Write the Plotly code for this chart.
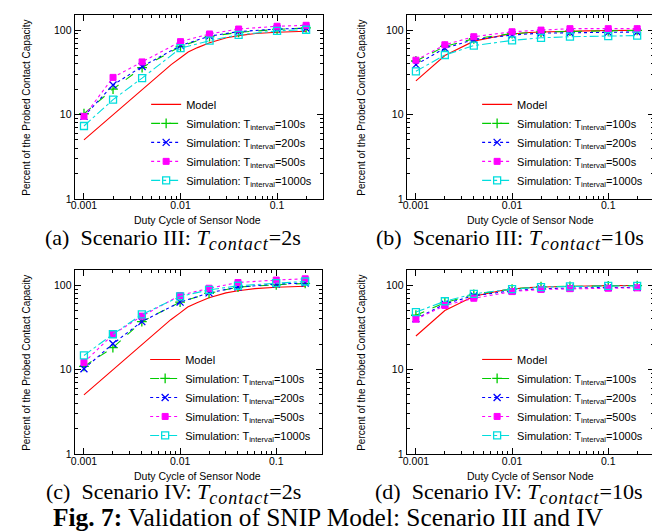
import plotly.graph_objects as go

# ---------------- data ----------------
duty = [0.001, 0.002, 0.004, 0.01, 0.02, 0.04, 0.1, 0.2]
model_duty = [0.001, 0.002, 0.004, 0.006, 0.008, 0.01, 0.012, 0.015, 0.02, 0.03, 0.04, 0.06, 0.1, 0.2]
model_2s = [5, 10, 20, 30, 39, 47, 55, 62, 71, 81, 86, 91, 94.5, 97]
model_10s = [25, 50, 74, 82, 87, 90, 92, 93.5, 95, 96.5, 97.3, 98, 98.8, 99.3]

# Scenario III, Tcontact = 2s
a_100 = [10.2, 20, 36, 64, 84, 94, 102, 106]
a_200 = [9.5, 22.4, 37, 65.5, 85, 96, 103, 105]
a_500 = [9.5, 27.5, 42, 73, 90, 103, 111, 114]
a_1000 = [7.3, 15, 27, 61, 75, 88, 98, 101]
# Scenario III, Tcontact = 10s
b_100 = [43, 64, 79, 91, 95, 97, 98, 99]
b_200 = [39, 61, 77, 87.5, 92, 93, 94, 95]
b_500 = [44, 67, 83.5, 95.5, 100, 104, 104, 104]
b_1000 = [32.5, 50.7, 65.5, 75.5, 81, 83.5, 85, 86]
# Scenario IV, Tcontact = 2s
c_100 = [10.9, 18.2, 37, 63, 80, 95, 101, 105]
c_200 = [10.2, 20.2, 37, 63, 81, 95, 103, 106]
c_500 = [12.1, 26, 43, 75.5, 92, 107.6, 115, 119]
c_1000 = [14.7, 26.2, 45, 73.5, 88, 98.5, 105.6, 110.6]
# Scenario IV, Tcontact = 10s
d_100 = [44, 62, 78, 90, 96, 97, 98, 99]
d_200 = [40, 60, 75, 86, 91, 93, 94, 94]
d_500 = [39.5, 57.5, 70, 84, 89, 91, 92, 93]
d_1000 = [48, 64.5, 79, 90, 95, 97, 98, 98]

series_names = ["Model",
                "Simulation: T<sub>interval</sub>=100s",
                "Simulation: T<sub>interval</sub>=200s",
                "Simulation: T<sub>interval</sub>=500s",
                "Simulation: T<sub>interval</sub>=1000s"]

x_tickvals = [0.001, 0.01, 0.1]
x_ticktext = ["0.001", "0.01", "0.1"]
y_tickvals = [1, 10, 100]
y_ticktext = ["1", "10", "100"]

math_t = ('<i>T</i><sub><span style="font-size:18px;letter-spacing:1px">'
          '<i>contact</i></span></sub>')
captions = ["(a)  Scenario III: " + math_t + "=2s",
            "(b)  Scenario III: " + math_t + "=10s",
            "(c)  Scenario IV: " + math_t + "=2s",
            "(d)  Scenario IV: " + math_t + "=10s"]
fig_title = "<b>Fig. 7:</b> Validation of SNIP Model: Scenario III and IV"
x_title = "Duty Cycle of Sensor Node"
y_title = "Percent of the Probed Contact Capacity"

panels = [
    (model_2s, a_100, a_200, a_500, a_1000),
    (model_10s, b_100, b_200, b_500, b_1000),
    (model_2s, c_100, c_200, c_500, c_1000),
    (model_10s, d_100, d_200, d_500, d_1000),
]

# ---------------- layout geometry (pixels) ----------------
W, H = 660, 531
boxes = [  # left, right, top, bottom
    (63, 313, 7, 193),
    (397, 646, 7, 193),
    (63, 312, 265, 451),
    (397, 646, 265, 451),
]

def px(x):
    return x / W

def py(y):
    return 1 - y / H

styles = [
    dict(color="#ff0000", dash="solid", symbol=None),
    dict(color="#00cc00", dash="dash", symbol="cross-thin-open"),
    dict(color="#0000ff", dash="dot", symbol="x-thin-open"),
    dict(color="#ff00ff", dash="dot", symbol="square"),
    dict(color="#00dddd", dash="dashdot", symbol="square-open"),
]

fig = go.Figure()
minor_x = [m * 10 ** e for e in (-3, -2, -1) for m in range(2, 10) if m * 10 ** e <= 0.3]
minor_y = [m * 10 ** e for e in (0, 1, 2) for m in range(2, 10) if m * 10 ** e <= 150]

font_sans = "Liberation Sans, Arial, sans-serif"
font_serif = "Liberation Serif, Times New Roman, serif"

for i, (vals, box) in enumerate(zip(panels, boxes)):
    k = "" if i == 0 else str(i + 1)
    leg = "legend" if i == 0 else f"legend{i + 1}"
    for j, (name, st, yv) in enumerate(zip(series_names, styles, vals)):
        xs = model_duty if j == 0 else duty
        tr = dict(x=xs, y=yv, name=name, legend=leg,
                  xaxis="x" + k, yaxis="y" + k,
                  line=dict(color=st["color"], dash=st["dash"], width=1.1))
        if st["symbol"] is None:
            tr["mode"] = "lines"
        else:
            tr["mode"] = "lines+markers"
            if st["symbol"] == "square":
                tr["marker"] = dict(symbol="square", size=6, color=st["color"],
                                    line=dict(color=st["color"], width=1))
            else:
                tr["marker"] = dict(symbol=st["symbol"], size=7, color=st["color"],
                                    line=dict(color=st["color"], width=1.3))
        fig.add_trace(go.Scatter(**tr))

    l, r, t, b = box
    fig.layout["xaxis" + k] = dict(
        type="log", domain=[px(l), px(r)], range=[-3.097, -0.523],
        anchor="y" + k, tickvals=x_tickvals, ticktext=x_ticktext,
        ticks="inside", ticklen=6, tickwidth=1, tickcolor="black",
        showline=True, linecolor="black", linewidth=1, mirror="allticks",
        showgrid=False, zeroline=False, ticklabelstandoff=-3,
        tickfont=dict(family=font_sans, size=10.5, color="black"),
        minor=dict(tickvals=minor_x, ticks="inside", ticklen=3, tickcolor="black",
                   tickwidth=1, showgrid=False),
    )
    fig.layout["yaxis" + k] = dict(
        type="log", domain=[py(b), py(t)], range=[0, 2.18],
        anchor="x" + k, tickvals=y_tickvals, ticktext=y_ticktext,
        ticks="inside", ticklen=6, tickwidth=1, tickcolor="black",
        showline=True, linecolor="black", linewidth=1, mirror="allticks",
        showgrid=False, zeroline=False, ticklabelstandoff=0,
        tickfont=dict(family=font_sans, size=10.5, color="black"),
        minor=dict(tickvals=minor_y, ticks="inside", ticklen=3, tickcolor="black",
                   tickwidth=1, showgrid=False),
    )
    fig.layout[leg] = dict(
        x=px(r - 6), y=py(b - 4), xanchor="right", yanchor="bottom",
        bgcolor="rgba(0,0,0,0)", borderwidth=0,
        font=dict(family=font_sans, size=11, color="black"),
        tracegroupgap=0, itemwidth=30,
    )

# axis titles and captions
cap_pos = [(162, 234), (501, 234), (162, 491), (500, 491)]
xt_pos = [(187, 214), (522, 214), (187, 473), (522, 473)]
yt_pos = [(15, 101), (352, 101), (15, 359), (352, 359)]
ann = []
for i in range(4):
    ann.append(dict(text=x_title, x=px(xt_pos[i][0]), y=py(xt_pos[i][1]), xref="paper", yref="paper",
                    showarrow=False, xanchor="center", yanchor="middle",
                    font=dict(family=font_sans, size=10.5, color="black")))
    ann.append(dict(text=y_title, x=px(yt_pos[i][0]), y=py(yt_pos[i][1]), xref="paper", yref="paper",
                    showarrow=False, xanchor="center", yanchor="middle", textangle=-90,
                    font=dict(family=font_sans, size=10, color="black")))
    ann.append(dict(text=captions[i], x=px(cap_pos[i][0]), y=py(cap_pos[i][1]), xref="paper", yref="paper",
                    showarrow=False, xanchor="center", yanchor="middle",
                    font=dict(family=font_serif, size=22, color="black")))
ann.append(dict(text=fig_title, x=px(318), y=0, xref="paper", yref="paper",
                showarrow=False, xanchor="center", yanchor="bottom",
                font=dict(family=font_serif, size=25.4, color="black")))

fig.update_layout(
    width=W, height=H, margin=dict(l=0, r=0, t=0, b=0),
    paper_bgcolor="white", plot_bgcolor="white",
    showlegend=True, annotations=ann,
)

fig.write_html("out.html")
